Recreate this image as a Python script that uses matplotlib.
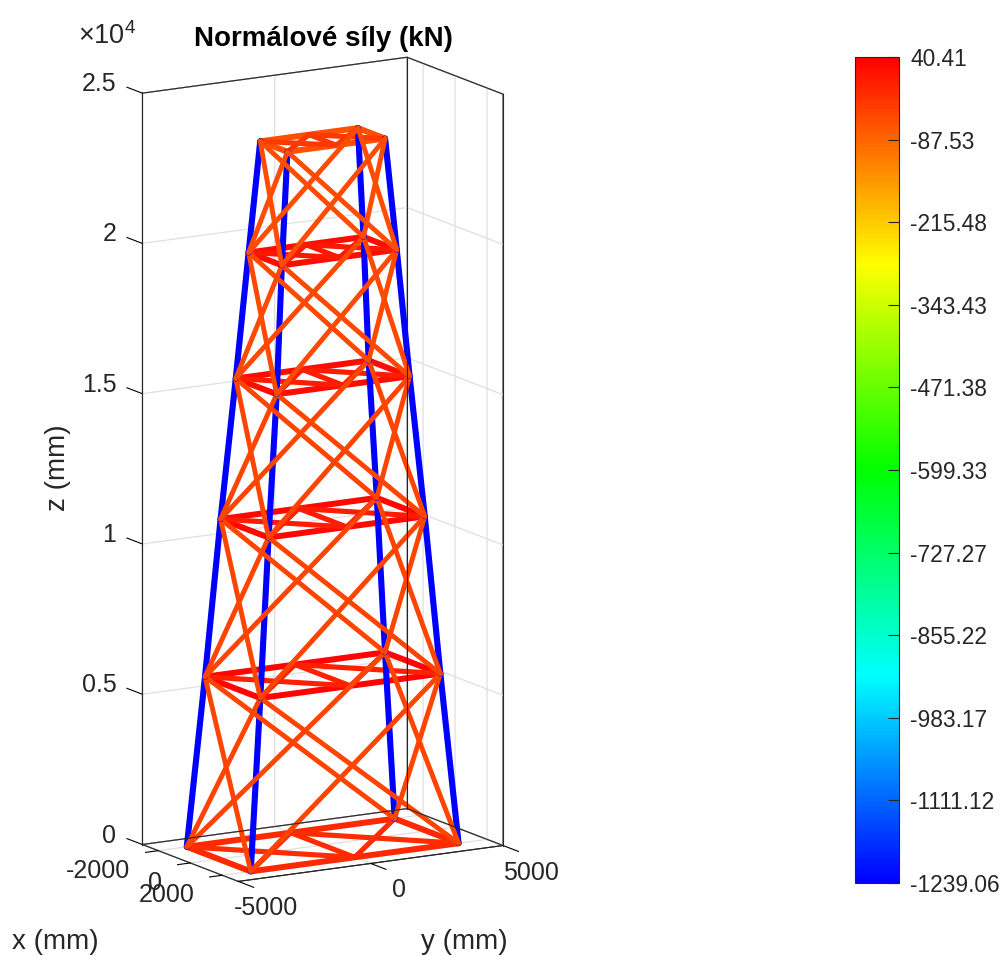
import numpy as np
import matplotlib
matplotlib.use('Agg')
import matplotlib.pyplot as plt
from matplotlib.colors import LinearSegmentedColormap, Normalize
from matplotlib.cm import ScalarMappable
from matplotlib.transforms import ScaledTranslation

plt.rcParams['font.family'] = ['Liberation Sans', 'DejaVu Sans']
plt.rcParams['mathtext.fontset'] = 'custom'
plt.rcParams['mathtext.rm'] = 'Liberation Sans'
TEXT = '#262626'

# tower geometry (mm), one entry per level
level_z = [0, 5650, 10890, 15560, 19760, 23460]
half_x = [2000, 1730, 1500, 1280, 1040, 850]
half_y = [3925, 3400, 2950, 2510, 2170, 1845]

# normal forces (kN)
leg_force = [-1239, -1239, -1239, -1239, -1239]
diag_force = [-46, -46, -46, -50, -58]
ring_force = [-10, 35, 28, 25, 25, -62]
brace_force = [-15, 0, 5, 5, 8, -30]

cbar_ticks = [40.41, -87.53, -215.48, -343.43, -471.38, -599.33, -727.27, -855.22, -983.17, -1111.12, -1239.06]
cbar_labels = ['40.41', '-87.53', '-215.48', '-343.43', '-471.38', '-599.33', '-727.27', '-855.22', '-983.17', '-1111.12', '-1239.06']

x_lim = [-3000, 3000]
y_lim = [-5000, 5000]
z_lim = [0, 25000]
x_ticks = [-2000, 0, 2000]
y_ticks = [-5000, 0, 5000]
z_ticks = [0, 5000, 10000, 15000, 20000, 25000]
z_labels = ['0', '0.5', '1', '1.5', '2', '2.5']

cmap = LinearSegmentedColormap.from_list('force', ['#0000ff', '#00ffff', '#00ff00', '#ffff00', '#ff0000'], N=256)
norm = Normalize(min(cbar_ticks), max(cbar_ticks))

W, H = 1002, 956
fig = plt.figure(figsize=(W / 100, H / 100), dpi=100)

S = 827
ax = fig.add_axes([-102 / W, 62 / H, S / W, S / H], projection='3d', proj_type='ortho', computed_zorder=True)
ax.set_xlim(*x_lim, view_margin=0)
ax.set_ylim(*y_lim, view_margin=0)
ax.set_zlim(*z_lim, view_margin=0)
ax.set_box_aspect((188, 308, 772))
ax.view_init(elev=13.2, azim=-30.7)
ax.patch.set_alpha(0)


def corners(i):
    a, b, z = half_x[i], half_y[i], level_z[i]
    return {'L': (-a, -b, z), 'F': (a, -b, z), 'R': (a, b, z), 'B': (-a, b, z),
            'mBL': (-a, 0, z), 'mFR': (a, 0, z)}


def member(p, q, force, lw):
    ax.plot([p[0], q[0]], [p[1], q[1]], [p[2], q[2]], color=cmap(norm(force)), lw=lw, solid_capstyle='round')


for i in range(len(level_z)):
    c = corners(i)
    for p, q in [('L', 'F'), ('F', 'R'), ('R', 'B'), ('B', 'L')]:
        member(c[p], c[q], ring_force[i], 4.3)
    for p, q in [('mBL', 'F'), ('mBL', 'R'), ('mFR', 'L'), ('mFR', 'B'), ('mBL', 'mFR')]:
        member(c[p], c[q], brace_force[i], 3.7)

for i in range(len(level_z) - 1):
    lo, up = corners(i), corners(i + 1)
    for p in 'LFRB':
        member(lo[p], up[p], leg_force[i], 4.4)
    for p, q in [('L', 'F'), ('F', 'R'), ('R', 'B'), ('B', 'L')]:
        member(lo[p], up[q], diag_force[i], 3.5)
        member(lo[q], up[p], diag_force[i], 3.5)

ax.set_xticks(x_ticks)
ax.set_yticks(y_ticks)
ax.set_zticks(z_ticks)
ax.set_xticklabels([])
ax.set_yticklabels([])
ax.set_zticklabels([])

# ticks point out of the box here, z ticks run along x like in the original
ax.zaxis._get_tickdir = lambda pos: 0
for axis, out in [(ax.xaxis, -0.6), (ax.yaxis, -2.0), (ax.zaxis, 2.0)]:
    axis.set_pane_color((1, 1, 1, 0))
    axis.pane.set_alpha(None)
    axis.pane.set_facecolor((1, 1, 1, 0))
    axis.pane.set_edgecolor('#262626')
    axis.pane.set_linewidth(0.8)
    axis.line.set_color('#262626')
    axis.line.set_linewidth(0.8)
    axis._axinfo['grid'].update(color='#dfdfdf', linewidth=0.9)
    axis._axinfo['tick'].update(inward_factor=0, outward_factor=out, color='#262626')
    axis._axinfo['tick']['linewidth'] = {True: 0.8, False: 0.5}
ax.zaxis.set_ticks_position('lower')
ax.grid(True)

# grid lines sit on top of the pane edges, so draw the back edges again
for xs, ys, zs in [([x_lim[0], x_lim[0], x_lim[1]], [y_lim[0], y_lim[1], y_lim[1]], [z_lim[1]] * 3),
                   ([x_lim[0], x_lim[0], x_lim[1]], [y_lim[0], y_lim[1], y_lim[1]], [z_lim[0]] * 3),
                   ([x_lim[0]] * 2, [y_lim[1]] * 2, z_lim),
                   ([x_lim[0]] * 2, [y_lim[0]] * 2, z_lim),
                   ([x_lim[1]] * 2, [y_lim[1]] * 2, z_lim)]:
    ax.plot(xs, ys, zs, color='#262626', lw=0.8, clip_on=False)


def tick_text(x, y, z, s, dx, dy, ha):
    # label anchored at its tick, nudged by pixels
    tr = ax.transData + ScaledTranslation(dx / 100, dy / 100, fig.dpi_scale_trans)
    ax.text(x, y, z, s, transform=tr, ha=ha, va='center', fontsize=18, color=TEXT)


for v in x_ticks:
    tick_text(v, y_lim[0], z_lim[0], str(v), -28, -20, 'right')
for v in y_ticks:
    tick_text(x_lim[1], v, z_lim[0], str(v), 28, -27, 'center')
for v, s in zip(z_ticks, z_labels):
    tick_text(x_lim[0], y_lim[0], v, s, -26, 9, 'right')

ax.set_title('Normálové síly (kN)', fontsize=20, fontweight='bold', color='black', x=425 / S, y=1.104)
fig.text(55 / W, 1 - 942 / H, 'x (mm)', fontsize=20, color=TEXT, ha='center', va='center')
fig.text(464 / W, 1 - 942 / H, 'y (mm)', fontsize=20, color=TEXT, ha='center', va='center')
fig.text(58 / W, 1 - 468 / H, 'z (mm)', fontsize=20, color=TEXT, ha='center', va='center', rotation=90)
fig.text(107 / W, 1 - 36 / H, r'$\times 10^4$', fontsize=19.5, color=TEXT, ha='center', va='center')

cax = fig.add_axes([855 / W, 1 - 883 / H, 44 / W, 826 / H])
cb = fig.colorbar(ScalarMappable(norm=norm, cmap=cmap), cax=cax)
cb.set_ticks(cbar_ticks, labels=cbar_labels)
cax.tick_params(direction='in', length=8, width=0.8, color='#262626', labelsize=16.4, labelcolor=TEXT, pad=8)
cb.outline.set_linewidth(0.8)
cb.outline.set_edgecolor('#262626')

fig.savefig('out.png', dpi=100)
